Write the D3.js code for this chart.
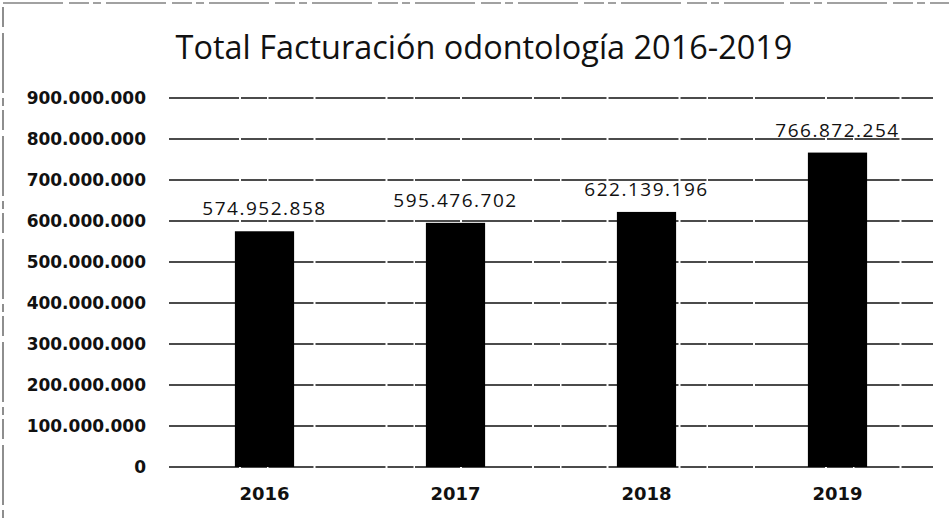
<!DOCTYPE html>
<html>
<head>
<meta charset="utf-8">
<script src="https://cdn.jsdelivr.net/npm/d3@7"></script>
<style>
  body { margin: 0; background: #fff; }
  svg { display: block; }
</style>
</head>
<body>
<svg id="chart" width="949" height="518"></svg>
<script>
// data
const years = ["2016", "2017", "2018", "2019"];
const totals = [574952858, 595476702, 622139196, 766872254];
const yTicks = [0, 100000000, 200000000, 300000000, 400000000, 500000000,
                600000000, 700000000, 800000000, 900000000];
const titleText = "Total Facturación odontología 2016-2019";

const svg = d3.select("#chart");
const width = 949, height = 518;
const margin = { top: 98, right: 16, bottom: 51, left: 169 };

// spanish style thousands: 574.952.858
const fmt = d3.formatLocale({ decimal: ",", thousands: ".", grouping: [3], currency: ["", ""] }).format(",.0f");

const dataset = years.map((y, i) => ({ year: y, total: totals[i] }));

const xScale = d3.scaleBand()
    .domain(years)
    .range([margin.left, width - margin.right])
    .paddingInner(0.69)
    .paddingOuter(0.345);

const yScale = d3.scaleLinear()
    .domain([0, 900000000])
    .range([height - margin.bottom, margin.top]);

// scanned page border (only top and left show)
svg.append("rect")
    .attr("x", 3).attr("y", 3)
    .attr("width", width + 10).attr("height", height + 10)
    .style("fill", "none")
    .style("stroke", "#444")
    .style("stroke-width", 1.2)
    .style("stroke-dasharray", "60,6,20,4,8,5");

// title
const title = svg.append("text")
    .attr("x", 484).attr("y", 59)
    .attr("text-anchor", "middle")
    .style("font-family", "'Open Sans', sans-serif")
    .style("font-size", "30px")
    .style("fill", "#111")
    .text(titleText);
// fit the title to the width seen in the picture
const tl = title.node().getComputedTextLength();
title.style("font-size", (30 * 617 / tl).toFixed(2) + "px");

// gridlines
svg.append("g")
    .attr("class", "grid")
    .selectAll("line")
    .data(yTicks)
    .join("line")
    .attr("x1", margin.left)
    .attr("x2", width - margin.right)
    .attr("y1", d => yScale(d))
    .attr("y2", d => yScale(d))
    .style("stroke", "#111")
    .style("stroke-width", 1.5)
    .style("stroke-dasharray", "70,2,26,1.5,45,2");

// y axis labels
const yAxis = d3.axisLeft(yScale)
    .tickValues(yTicks)
    .tickFormat(d => fmt(d))
    .tickSize(0)
    .tickPadding(0);

svg.append("g")
    .attr("transform", `translate(146,0)`)
    .call(yAxis)
    .call(g => g.select(".domain").remove())
    .selectAll("text")
    .style("font-family", "'DejaVu Sans', sans-serif")
    .style("font-weight", "bold")
    .style("font-size", "17px")
    .style("fill", "#111");

// bars
svg.append("g")
    .attr("class", "bubble_group")
    .selectAll("rect")
    .data(dataset)
    .join("rect")
    .attr("x", d => xScale(d.year))
    .attr("width", xScale.bandwidth())
    .attr("y", d => yScale(d.total))
    .attr("height", d => yScale(0) - yScale(d.total))
    .style("fill", "#000");

// value labels
svg.append("g")
    .selectAll("text")
    .data(dataset)
    .join("text")
    .attr("x", d => xScale(d.year) + xScale.bandwidth() / 2)
    .attr("y", d => yScale(d.total) - 16)
    .attr("text-anchor", "middle")
    .style("font-family", "'Open Sans', sans-serif")
    .style("font-size", "19px")
    .style("letter-spacing", "1.5px")
    .style("fill", "#111")
    .text(d => fmt(d.total));

// x axis labels
const xAxis = d3.axisBottom(xScale).tickSize(0).tickPadding(0);
svg.append("g")
    .attr("transform", `translate(0,${height - margin.bottom + 20})`)
    .call(xAxis)
    .call(g => g.select(".domain").remove())
    .selectAll("text")
    .style("font-family", "'DejaVu Sans', sans-serif")
    .style("font-weight", "bold")
    .style("font-size", "18px")
    .style("fill", "#111");
</script>
</body>
</html>
